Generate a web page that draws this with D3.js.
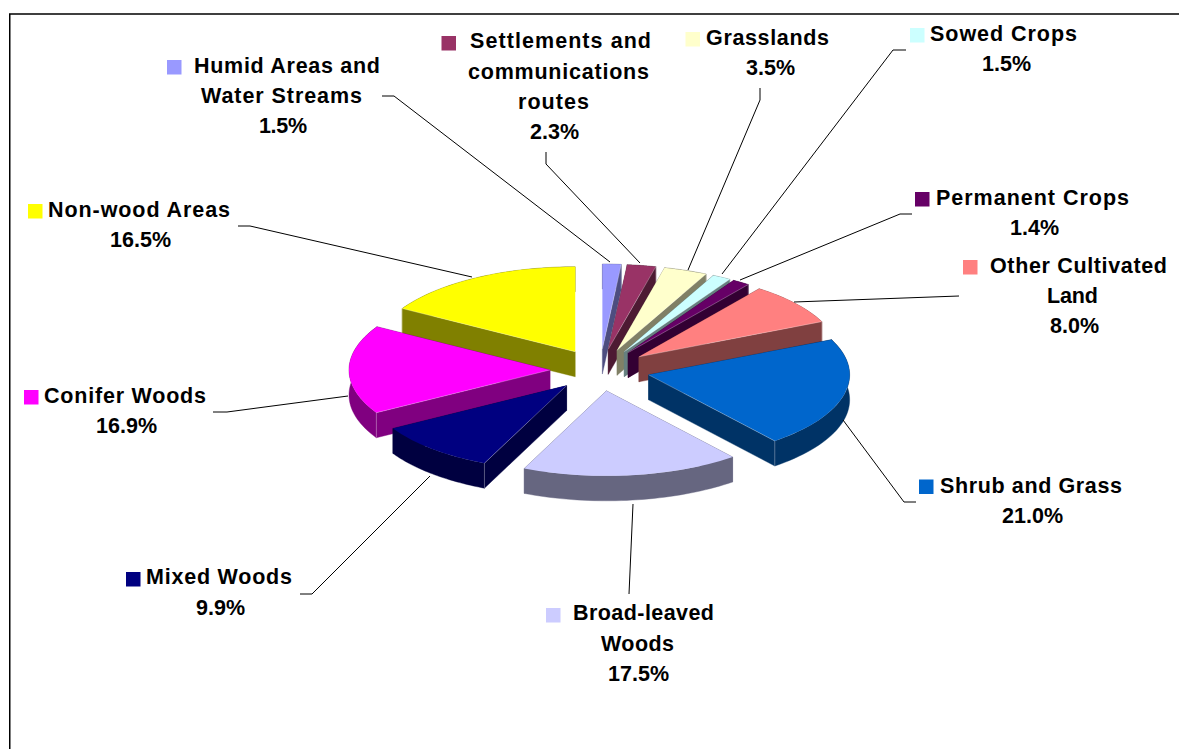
<!DOCTYPE html>
<html>
<head>
<meta charset="utf-8">
<title>Land use shares</title>
<script src="https://cdn.jsdelivr.net/npm/d3@7/dist/d3.min.js"></script>
<style>
  html, body { margin: 0; padding: 0; background: #fff; }
  svg { display: block; }
  text { font-family: "Liberation Sans", Arial, sans-serif; font-weight: 700; font-size: 21.5px; fill: #000; }
</style>
</head>
<body>
<div id="chart"></div>
<script>
// Land use categories, clockwise from twelve o'clock
const categories = [
  "Humid Areas and Water Streams", "Settlements and communications routes",
  "Grasslands", "Sowed Crops", "Permanent Crops", "Other Cultivated Land",
  "Shrub and Grass", "Broad-leaved Woods", "Mixed Woods", "Conifer Woods", "Non-wood Areas"
];
const shares = [1.5, 2.3, 3.5, 1.5, 1.4, 8.0, 21.0, 17.5, 9.9, 16.9, 16.5];
const sliceColors = [
  "#9999FF", "#993366", "#FFFFCC", "#CCFFFF", "#660066", "#FF8080",
  "#0066CC", "#CCCCFF", "#000080", "#FF00FF", "#FFFF00"
];
const labelLines = [
  ["Humid Areas and", "Water Streams"], ["Settlements and", "communications", "routes"],
  ["Grasslands"], ["Sowed Crops"], ["Permanent Crops"], ["Other Cultivated", "Land"],
  ["Shrub and Grass"], ["Broad-leaved", "Woods"], ["Mixed Woods"], ["Conifer Woods"], ["Non-wood Areas"]
];

// Label layout: one [left, right, baseline] per text line, percentage line last
const labelBoxes = [
  [[194,380,73],[201,362,103],[259,307,133]],
  [[470,651,48],[468,649,79],[518,589,109],[530,579,139]],
  [[706,829,45],[746,795,75]],
  [[930,1077,41],[982,1031,71]],
  [[936,1129,205],[1010,1059,235]],
  [[990,1167,273],[1047,1098,303],[1050,1099,333]],
  [[940,1122,493],[1002,1063,523]],
  [[573,714,620],[601,674,651],[608,669,681]],
  [[146,292,584],[196,245,615]],
  [[44,206,403],[96,157,433]],
  [[48,230,217],[110,171,247]]
];
// Top-left corner of each legend key
const keyCorners = [
  [167,60],[441.5,36],[685.5,32],[910,28],[915,192],[963,260],
  [919,479.5],[546,608],[126,572],[24,390],[28,204]
];
// Leader polylines from the label towards the slice
const leaders = [
  [[382,96],[394,96],[610,262]],
  [[546,152],[546,164],[640,263]],
  [[760,88],[760,100],[688,270]],
  [[906,50],[893,50],[722,274]],
  [[912,214],[900,214],[740,280]],
  [[959,296],[794,302]],
  [[916,502],[904,502],[843,420]],
  [[629,594],[633,504]],
  [[300,594],[312,594],[430,476]],
  [[213,412],[227,412],[348,396]],
  [[238,226],[250,226],[472,277]]
];

const width = 1179, height = 749;
const centerX = 600, centerY = 370;
const radiusX = 201, radiusY = 85, depth = 25;
const explodeX = 50, explodeY = 21;

const svg = d3.select("#chart").append("svg")
  .attr("width", width).attr("height", height)
  .attr("viewBox", [0, 0, width, height]);

svg.append("rect").attr("width", width).attr("height", height).attr("fill", "#fff");

// Chart frame; its right and bottom sides run past the page edge
svg.append("path")
  .attr("d", d3.line()([[9.75, height], [9.75, 14], [width, 14]]))
  .attr("fill", "none").attr("stroke", "#000").attr("stroke-width", 1.5);

// Unit-circle coordinates flattened into the tilted ellipse
const xScale = d3.scaleLinear().domain([-1, 1]).range([-radiusX, radiusX]);
const yScale = d3.scaleLinear().domain([-1, 1]).range([-radiusY, radiusY]);

const arcs = d3.pie().sort(null).value((_, i) => shares[i])(categories);

const slices = arcs.map((a, i) => {
  const mid = (a.startAngle + a.endAngle) / 2;
  return {
    ...a, i, mid,
    ox: centerX + explodeX * Math.sin(mid),
    oy: centerY - explodeY * Math.cos(mid)
  };
}).sort((p, q) => Math.cos(q.mid) - Math.cos(p.mid));

const rimX = t => xScale(Math.sin(t));
const rimY = t => yScale(-Math.cos(t));
const wallArea = d3.area().x(d => d[0]).y0(d => d[1]).y1(d => d[1] + depth);
const topArc = d3.arc().innerRadius(0).outerRadius(1);

const pieGroup = svg.append("g");

slices.forEach(s => {
  const g = pieGroup.append("g").attr("transform", `translate(${s.ox},${s.oy})`);
  const base = d3.rgb(sliceColors[s.i]);
  const side = d3.rgb(base.r / 2, base.g / 2, base.b / 2).formatHex();

  const rimPoints = d3.range(0, 41).map(k => {
    const t = s.startAngle + (s.endAngle - s.startAngle) * k / 40;
    return [rimX(t), rimY(t)];
  });
  // A cut wall lying exactly along twelve o'clock is seen edge-on and has no area
  const radialAngles = [s.startAngle, s.endAngle].filter(t => Math.abs(Math.sin(t)) > 1e-6);
  const walls = [rimPoints, ...radialAngles.map(t => [[0, 0], [rimX(t), rimY(t)]])]
    .map(pts => ({ pts, meanY: d3.mean(pts, d => d[1]) }))
    .sort((p, q) => p.meanY - q.meanY);

  walls.forEach(w => {
    g.append("path").attr("d", wallArea(w.pts))
      .attr("fill", side).attr("stroke", side).attr("stroke-width", 0.4);
  });

  g.append("path")
    .attr("d", topArc(s))
    .attr("transform", `scale(${xScale(1)},${yScale(1)})`)
    .attr("fill", sliceColors[s.i]);

  // Hairline highlight along the radial edge of whichever cut wall faces the viewer
  const facing = [];
  if (Math.sin(s.endAngle) > 1e-6) facing.push(s.endAngle);
  if (Math.sin(s.startAngle) < -1e-6) facing.push(s.startAngle);
  facing.forEach(t => {
    const px = rimX(t), py = rimY(t);
    g.append("path")
      .attr("d", d3.line()([[0, 0], [px, py], [px, py + depth]]))
      .attr("fill", "none").attr("stroke", "#fff")
      .attr("stroke-opacity", 0.4).attr("stroke-width", 0.7);
  });
});

// Leader lines
svg.append("g").selectAll("path").data(leaders).join("path")
  .attr("d", d => d3.line()(d))
  .attr("fill", "none").attr("stroke", "#000").attr("stroke-width", 1);

// Legend keys and labels
const formatShare = v => v.toFixed(1) + "%";
const labels = svg.append("g");

categories.forEach((_, i) => {
  labels.append("rect")
    .attr("x", keyCorners[i][0]).attr("y", keyCorners[i][1])
    .attr("width", 14.5).attr("height", 14.5)
    .attr("fill", sliceColors[i]);

  const rows = [...labelLines[i], formatShare(shares[i])];
  rows.forEach((row, r) => {
    const [left, right, base] = labelBoxes[i][r];
    labels.append("text")
      .attr("x", left).attr("y", base)
      .attr("textLength", right - left)
      .attr("lengthAdjust", "spacing")
      .text(row);
  });
});
</script>
</body>
</html>
